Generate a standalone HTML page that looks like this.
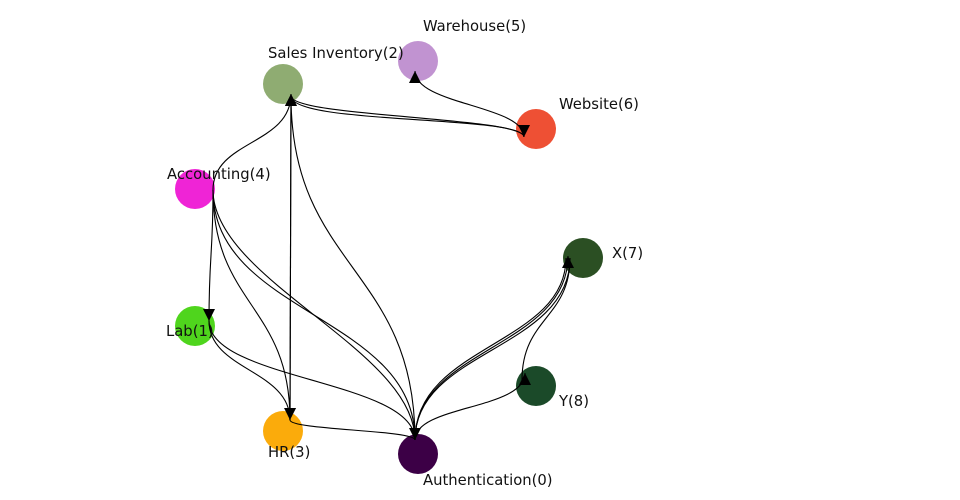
<!DOCTYPE html>
<html><head><meta charset="utf-8"><style>
html,body{margin:0;padding:0;background:#fff;width:960px;height:500px;overflow:hidden}
svg text{font-family:"DejaVu Sans","Liberation Sans",sans-serif;font-size:14.8px;fill:#111}
</style></head><body>
<svg width="960" height="500" viewBox="0 0 960 500" xmlns="http://www.w3.org/2000/svg">
<defs><marker id="a" viewBox="0 0 10 10" refX="10" refY="5" markerWidth="12" markerHeight="12" markerUnits="userSpaceOnUse" orient="auto"><path d="M0,0L10,5L0,10z" fill="#000"/></marker></defs>
<circle cx="418" cy="61" r="20" fill="#c193d1"/>
<circle cx="283" cy="84" r="20" fill="#8fac72"/>
<circle cx="536" cy="129" r="20" fill="#ee5034"/>
<circle cx="195" cy="189" r="20" fill="#ef24d6"/>
<circle cx="583" cy="258" r="20" fill="#2b4f23"/>
<circle cx="195" cy="326" r="20" fill="#4fd51d"/>
<circle cx="536" cy="386" r="20" fill="#1b4a29"/>
<circle cx="283" cy="431" r="20" fill="#fbab0b"/>
<circle cx="418" cy="454" r="20" fill="#3c0046"/>
<g fill="none" stroke="#000" stroke-width="1.1">
<path d="M524,137 C524,105 415,105 415,71" marker-end="url(#a)"/>
<path d="M291,96 C291,117 524,117 524,137"/>
<path d="M291,96 C291,125 524,115 524,137" marker-end="url(#a)"/>
<path d="M213,190 C213,140 291,145 291,94" marker-end="url(#a)"/>
<path d="M213,190 C213,255 209,255 209,321" marker-end="url(#a)"/>
<path d="M213,190 C213,305 290,305 290,420"/>
<path d="M213,190 C213,315 415,315 415,440"/>
<path d="M213,190 C213,280 415,350 415,440"/>
<path d="M291,96 L290,420" marker-end="url(#a)"/>
<path d="M290,420 L291,94" marker-end="url(#a)"/>
<path d="M291,96 C291,268 415,268 415,440"/>
<path d="M209,321 C209,370 290,370 290,420"/>
<path d="M209,321 C209,380 415,380 415,440"/>
<path d="M290,420 C290,430 415,430 415,440" marker-end="url(#a)"/>
<path d="M415,440 C415,348 568,348 568,256" marker-end="url(#a)"/>
<path d="M415,440 C415,350 570,350 570,258"/>
<path d="M415,440 C415,345 566,345 566,258"/>
<path d="M415,440 C415,405 525,410 525,373" marker-end="url(#a)"/>
<path d="M522,380 C522,318 570,318 570,258"/>
</g>
<text x="423" y="31">Warehouse(5)</text>
<text x="268" y="58">Sales Inventory(2)</text>
<text x="559" y="109">Website(6)</text>
<text x="167" y="179">Accounting(4)</text>
<text x="612" y="258">X(7)</text>
<text x="166" y="336">Lab(1)</text>
<text x="559" y="406">Y(8)</text>
<text x="268" y="457">HR(3)</text>
<text x="423" y="485">Authentication(0)</text>
</svg>
</body></html>
